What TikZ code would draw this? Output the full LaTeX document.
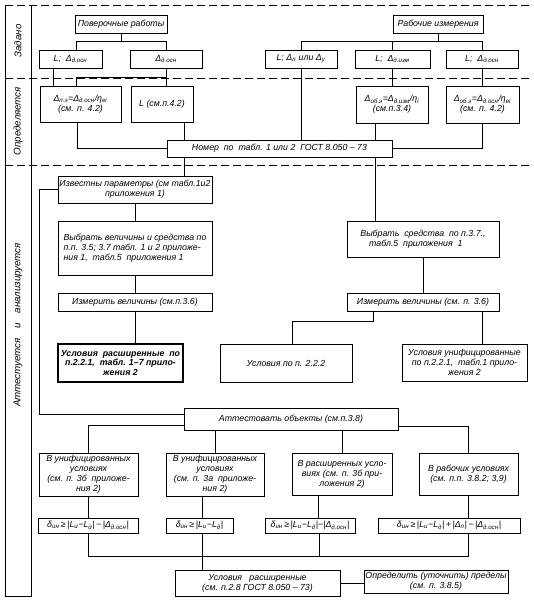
\documentclass[tikz,border=0pt]{standalone}
\usepackage{fontspec}
\setmainfont{Liberation Sans}
\usetikzlibrary{positioning}
\newdimen\pxu \pxu=0.03cm
\newcommand{\indx}[1]{\textsubscript{#1}}

\begin{document}
\begin{tikzpicture}[
    x=0.03cm, y=-0.03cm,
    every node/.style={font=\fontsize{7.5}{8.5}\selectfont\itshape},
    block/.style={draw, line width=0.6pt, align=center, inner sep=1pt},
    sz/.style 2 args={minimum width=#1\pxu, minimum height=#2\pxu},
    side/.style={rotate=90, font=\fontsize{8.3}{9}\selectfont\itshape},
    sep/.style={line width=0.7pt, dash pattern=on 0.24cm off 0.12cm},
    link/.style={line width=0.7pt}
]
\path[fill=white, use as bounding box] (0,0) rectangle (534,602);

\node[block, sz={92}{18}] (pov) at (121,24) {Поверочные работы};
\node[block, sz={63}{18}] (zL1) at (70.5,59) {L;\ \ Δ\indx{д.осн}};
\node[block, sz={72}{18}] (zD1) at (166,59) {Δ\indx{д.осн}};
\node[block, sz={81}{36}] (oDpe) at (80.5,104) {Δ\indx{п.э}=Δ\indx{д.осн}/η\indx{ei}\\(см. п. 4.2)};
\node[block, sz={62}{36}] (oL) at (162,104) {L (см.п.4.2)};
\node[block, sz={225}{17}] (nomer) at (279.5,148.5) {Номер\ \ по\ \ табл. 1 или 2\ \ ГОСТ 8.050 -- 73};
\node[block, sz={90}{18}] (rab) at (438,24) {Рабочие измерения};
\node[block, sz={72}{18}] (zL2) at (301,59) {L;\ Δ\indx{л} или Δ\indx{у}};
\node[block, sz={75}{18}] (zL3) at (392.5,59) {L;\ \ Δ\indx{д.изм}};
\node[block, sz={72}{18}] (zL4) at (482,59) {L;\ \ Δ\indx{д.осн}};
\node[block, sz={72}{37}] (oDob1) at (392,104.5) {Δ\indx{об.э}=Δ\indx{д.изм}/η\indx{i}\\(см.п.3.4)};
\node[block, sz={73}{37}] (oDob2) at (482.5,104.5) {Δ\indx{об.э}=Δ\indx{д.осн}/η\indx{ei}\\(см. п. 4.2)};

\node[block, sz={154}{27}] (izv) at (135,189.5) {Известны параметры (см табл.1и2\\приложения 1)};
\node[block, sz={154}{54}, align=left] (vybr1) at (135,248) {Выбрать величины и средства по\\п.п. 3.5; 3.7 табл. 1 и 2 приложе-\\ния 1,\ \ табл.5\ \ приложения 1};
\node[block, sz={154}{18}] (izm1) at (135,302) {Измерить величины (см.п.3.6)};
\node[block, sz={125}{38}, line width=1pt, font=\fontsize{7.5}{8.5}\selectfont\itshape\bfseries] (uslR) at (120.5,363) {Условия\ \ расширенные\ \ по\\п.2.2.1,\ \ табл. 1--7 прило-\\жения 2};
\node[block, sz={132}{38}] (usl222) at (286,363) {Условия по п. 2.2.2};
\node[block, sz={152}{36}, align=left] (vybr2) at (423,239) {Выбрать\ \ средства\ \ по п.3.7.,\\\quad табл.5\ \ приложения\ \ 1};
\node[block, sz={152}{18}] (izm2) at (423,302) {Измерить величины (см. п. 3.6)};
\node[block, sz={125}{37}] (uslU) at (464.5,362.5) {Условия унифицированные\\по п.2.2.1,\ \ табл.1 прило-\\жения 2};
\node[block, sz={214}{22}] (att) at (291,419) {Аттестовать объекты (см.п.3.8)};

\node[block, sz={99}{43}] (vU1) at (88.5,474.5) {В унифицированных\\условиях\\(см. п. 3б\ \ приложе-\\ния 2)};
\node[block, sz={98}{43}] (vU2) at (215,474.5) {В унифицированных\\условиях\\(см. п. 3а\ \ приложе-\\ния 2)};
\node[block, sz={100}{42}] (vR) at (342,474) {В расширенных усло-\\виях (см. п. 3б при-\\ложения 2)};
\node[block, sz={99}{42}] (vRab) at (468.5,474) {В рабочих условиях\\(см. п.п. 3.8.2; 3,9)};
\node[block, sz={100}{15}] (f1) at (88,525.5) {δ\indx{ин}\,≥\,|L\indx{и}−L\indx{д}|\,−\,|Δ\indx{д.осн}|};
\node[block, sz={67}{15}] (f2) at (199.5,525.5) {δ\indx{ин}\,≥\,|L\indx{и}−L\indx{д}|};
\node[block, sz={90}{15}] (f3) at (310,525.5) {δ\indx{ин}\,≥\,|L\indx{и}−L\indx{д}|−|Δ\indx{д.осн}|};
\node[block, sz={142}{15}] (f4) at (449,525.5) {δ\indx{ин}\,≥\,|L\indx{и}−L\indx{д}|\,+\,|Δ\indx{п}|\,−\,|Δ\indx{д.осн}|};
\node[block, sz={165}{26}] (uslRG) at (257.5,583) {Условия\ \ \ расширенные\\(см. п.2.8 ГОСТ 8.050 -- 73)};
\node[block, sz={144}{23}] (opr) at (436,581.5) {Определить (уточнить) пределы\\(см. п. 3.8.5)};

\node[side] (lZad) at (18,41) {Задано};
\node[side] (lOpr) at (18,121) {Определяется};
\node[side] (lAtt) at (18,325) {Аттестуется\quad и\quad анализируется};

\draw[link] (5,5) -- (5,596) -- (31,596) -- (31,5);
\draw[sep] (5,5) -- (530,5);
\draw[sep] (5,78) -- (530,78);
\draw[sep] (5,165) -- (530,165);

\draw[link] (pov.south) -- ++(0,8) coordinate (j1);
\draw[link] ([xshift=5.5\pxu]zL1.north) |- (j1) -| (zD1.north);
\draw[link] ([xshift=-17.5\pxu]zL1.south) -- ([xshift=-17.5\pxu]zL1.south |- oDpe.north);
\draw[link] (zD1.south) -- (zD1.south |- oL.north);
\draw[link] ([yshift=-9\pxu]zD1.south) -| ([xshift=-4.5\pxu]oDpe.north);
\draw[link] ([xshift=-3.5\pxu]oDpe.south) |- (nomer.west);
\draw[link] ([xshift=22\pxu]oL.south) -- ([xshift=22\pxu]oL.south |- nomer.north);

\draw[link] (rab.south) -- ++(0,8) coordinate (j2);
\draw[link] (zL2.north) |- (j2) -| (zL4.north);
\draw[link] (zL3.north) -- (zL3.north |- j2);
\draw[link] (zL2.south) -- (zL2.south |- nomer.north);
\draw[link] (zL3.south) -- (zL3.south |- oDob1.north);
\draw[link] (zL4.south) -- (zL4.south |- oDob2.north);
\draw[link] ([xshift=-17\pxu]oDob1.south) -- ([xshift=-17\pxu]oDob1.south |- nomer.north);
\draw[link] (oDob2.south) |- (nomer.east);

\draw[link] ([xshift=49\pxu]izv.north) -- ([xshift=49\pxu]izv.north |- nomer.south);
\draw[link] ([xshift=-48\pxu]vybr2.north) -- ([xshift=-48\pxu]vybr2.north |- nomer.south);
\draw[link] (izv) -- (vybr1);
\draw[link] (vybr1) -- (izm1);
\draw[link] (izm1.south) -- (izm1.south |- uslR.north);
\draw[link] (vybr2) -- (izm2);
\draw[link] ([xshift=-50\pxu]izm2.south) -- ++(0,10) -| ([xshift=6\pxu]usl222.north);
\draw[link] ([xshift=59\pxu]izm2.south) -- ([xshift=59\pxu]izm2.south |- uslU.north);
\draw[link] (izv.west) -- ++(-18,0) |- ([yshift=5\pxu]att.west);

\draw[link] ([yshift=-6\pxu]att.west) -| (vU1.north);
\draw[link] (vU2.north) -- (vU2.north |- att.south);
\draw[link] (vR.north) -- (vR.north |- att.south);
\draw[link] ([yshift=-7\pxu]att.east) -| (vRab.north);
\draw[link] (vU1.south) -- (vU1.south |- f1.north);
\draw[link] ([xshift=-13\pxu]vU2.south) -- ([xshift=-13\pxu]vU2.south |- f2.north);
\draw[link] ([xshift=-24\pxu]vR.south) -- ([xshift=-24\pxu]vR.south |- f3.north);
\draw[link] (vRab.south) -- (vRab.south |- f4.north);

\draw[link] (f1.south) -- ++(0,23) coordinate (j3) -| ([xshift=19\pxu]f4.south);
\draw[link] ([xshift=2.5\pxu]f2.south) -- ([xshift=-55.5\pxu]uslRG.north);
\draw[link] ([xshift=9\pxu]f3.south) -- ([xshift=9\pxu]f3.south |- j3);
\draw[link] (uslRG.east) -- (uslRG.east -| opr.west);
\end{tikzpicture}
\end{document}
